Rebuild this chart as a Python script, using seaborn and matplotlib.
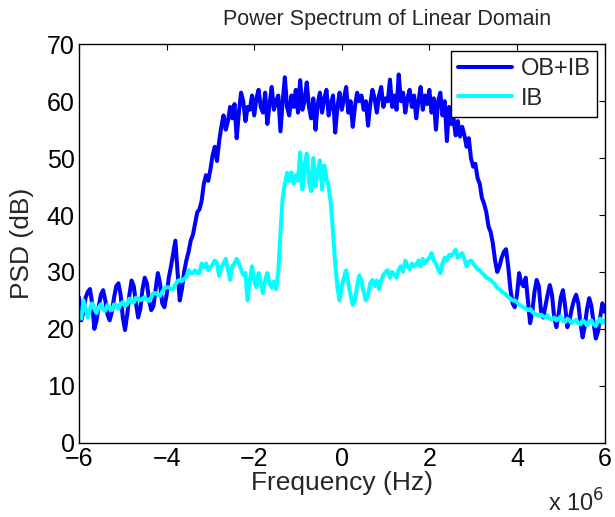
import numpy as np
import pandas as pd
import matplotlib
matplotlib.use("Agg")
import matplotlib.pyplot as plt
import seaborn as sns

# Frequency axis in units of 1e6 Hz, sampled every 0.05
freq_mhz = np.round(np.arange(-6.0, 6.0 + 1e-9, 0.05), 2)

# PSD (dB) of the full signal: out-of-band + in-band
psd_ob_ib = [
    25.5, 21.5, 23, 25.5, 26.5, 27, 24.5, 20, 21.5, 24,
    26, 26.8, 25, 22.5, 21.5, 23, 25.5, 27.5, 28, 26,
    22, 19.8, 22.5, 26, 28.5, 27.5, 24.5, 22, 23.5, 27,
    29, 28, 25, 23.3, 24, 27, 29.8, 28, 24.5, 23.8,
    26, 29, 31, 33.3, 35.5, 30, 25, 27, 30, 32,
    33.5, 35.5, 36.5, 38.5, 40.5, 41, 42.5, 45.5, 47, 46,
    48, 50.5, 52, 49.5, 53, 55.5, 57.5, 55, 56.5, 59,
    57, 59.5, 53.5, 58, 61.5, 60, 56.5, 59, 58.5, 61,
    57.5, 60.5, 62, 59, 58, 61.5, 56, 59.5, 62.5, 58.5,
    60, 61, 54.7, 60, 64.2, 59, 57.5, 61, 59, 62,
    58, 63.7, 58.5, 60, 63.3, 59, 57, 60.5, 55, 59.5,
    61.5, 58, 60.5, 62, 57.5, 59.5, 61, 54.5, 59, 61.5,
    58.5, 60.5, 62.5, 58, 60, 55.5, 59, 61.5, 60, 61,
    58.5, 60, 55.7, 59.5, 62, 60.5, 58, 61, 62.5, 59,
    60.5, 60, 63.8, 59, 61, 58.5, 64.7, 60, 61.5, 58,
    60.5, 62, 59, 61, 57, 60, 62.5, 58.5, 61, 59.5,
    62, 58, 60.5, 55, 60, 61.5, 57.5, 60, 53, 59,
    56, 57, 54, 56.5, 53.8, 55.5, 54, 52, 53.5, 50,
    48.5, 49, 46.5, 45.5, 43, 42, 40.5, 38, 37, 35,
    32, 30, 31, 32.5, 33.5, 34, 31, 27, 24.5, 23.8,
    26, 29.8, 28, 27.5, 29, 25, 21, 23, 26.5, 28.6,
    27.5, 23, 22, 24, 26, 27.7, 26, 22, 20.3, 22.5,
    25.5, 26.8, 24, 20.3, 21.5, 23.5, 25, 26, 24.5, 21,
    18.5, 20.5, 23.5, 25.4, 24, 21, 18.3, 19.5, 22, 24.5, 23,
]

# PSD (dB) of the in-band signal only
psd_ib = [
    22.5, 21.8, 25, 23.5, 22, 23.5, 24.5, 23.5, 22.8, 23.8,
    24.3, 23.4, 23.2, 24.2, 23.6, 23.3, 24.3, 24.2, 23.5, 24.4,
    24.7, 24, 24.3, 25.3, 24.8, 24.6, 25.5, 25.3, 25, 25.3,
    25.6, 25.1, 24.9, 25.6, 26.3, 26.3, 26, 25.8, 26.5, 27.2,
    27.3, 27.3, 27, 27, 27.8, 28.4, 28.6, 28.4, 28.8, 29.2,
    30.3, 29.8, 29.8, 30.3, 29.8, 29.8, 31.5, 30.8, 31.5, 30.3,
    30.8, 31.3, 32, 31.5, 29.3, 30.8, 31.5, 32.3, 30.5, 28.6,
    31, 31.5, 32.3, 31.5, 30.5, 29.5, 29.8, 25, 28.5, 31,
    28.5, 27.3, 29.8, 28, 26.3, 28.5, 29.8, 28, 27.3, 28.3,
    27, 30, 37, 43, 45.5, 47.4, 46, 47.5, 45.5, 47,
    46, 51, 44.5, 48.5, 50.8, 46, 44.2, 50, 45, 47.5,
    49.6, 44.5, 48.7, 46.5, 45, 42, 37, 31.5, 27.3, 25,
    27.5, 29, 30.3, 28, 26, 24.2, 25, 27.5, 29.4, 28.5,
    26.5, 25, 26, 28, 28.6, 27.5, 28.5, 27, 28.5, 29.5,
    30, 30.3, 29, 30, 29.5, 29, 30.5, 31, 30, 32,
    31, 30.5, 31.5, 31, 31.3, 32, 31, 32.3, 31.5, 32,
    32.5, 33.3, 32, 31.5, 30.5, 29.8, 31.5, 32.5, 32, 33,
    32.8, 33.3, 33.9, 32.5, 33, 33.3, 32.3, 31, 31.8, 32,
    31.5, 31, 30.5, 30.3, 29.8, 29.5, 29, 28.8, 28.6, 28.2,
    27.8, 27.2, 27, 26.6, 26.3, 26, 25.6, 25.3, 25, 25,
    24.7, 24.3, 24, 23.8, 23.6, 23.3, 23.5, 23, 22.6, 22.5,
    22.3, 22.5, 22.2, 22, 22.4, 21.8, 21.6, 22, 21.5, 21.8,
    22.2, 21.4, 21.2, 21.8, 21.5, 21, 21.3, 21.6, 21, 20.8,
    21.5, 21.2, 20.6, 21.3, 21.5, 20.8, 20.5, 21.3, 21.8, 21, 21.5,
]

series_names = ["OB+IB", "IB"]
series_colors = ["#0000ff", "#00ffff"]
x_ticks = [-6, -4, -2, 0, 2, 4, 6]
y_ticks = [0, 10, 20, 30, 40, 50, 60, 70]

df = pd.DataFrame({
    "freq": np.concatenate([freq_mhz, freq_mhz]),
    "psd": np.concatenate([psd_ob_ib, psd_ib]),
    "signal": [series_names[0]] * len(freq_mhz) + [series_names[1]] * len(freq_mhz),
})

sns.set_style("white")
plt.rcParams["font.family"] = ["Liberation Sans", "DejaVu Sans"]
plt.rcParams["axes.unicode_minus"] = True

fig = plt.figure(figsize=(6.15, 5.17), dpi=100)
ax = fig.add_axes([0.1285, 0.1437, 0.8545, 0.7706])

sns.lineplot(
    data=df, x="freq", y="psd", hue="signal",
    hue_order=series_names, palette=series_colors,
    estimator=None, sort=False, linewidth=2.9, ax=ax,
)

ax.set_xlim(-6, 6)
ax.set_ylim(0, 70)
ax.set_xticks(x_ticks)
ax.set_yticks(y_ticks)
ax.tick_params(direction="in", length=4, width=0.8, top=True, right=True,
               labelsize=18, colors="black", pad=3)
ax.tick_params(axis="x", pad=3)
for side in ax.spines.values():
    side.set_color("black")
    side.set_linewidth(1.0)

ax.set_title("Power Spectrum of Linear Domain", fontsize=15.5, pad=14, x=0.586)
ax.set_xlabel("Frequency (Hz)", fontsize=19, labelpad=0)
ax.set_ylabel("PSD (dB)", fontsize=19, labelpad=9)
ax.text(1.0, -0.118, r"x 10$^6$", transform=ax.transAxes, fontsize=17,
        ha="right", va="top")

leg = ax.legend(loc="upper right", fontsize=17, frameon=True, fancybox=False,
                edgecolor="black", framealpha=1.0, borderaxespad=0.3,
                handlelength=2.3, handletextpad=0.35, borderpad=0.3,
                labelspacing=0.3)
leg.get_frame().set_linewidth(1.0)
for line in leg.get_lines():
    line.set_linewidth(2.9)

fig.savefig("out.png", dpi=100)
